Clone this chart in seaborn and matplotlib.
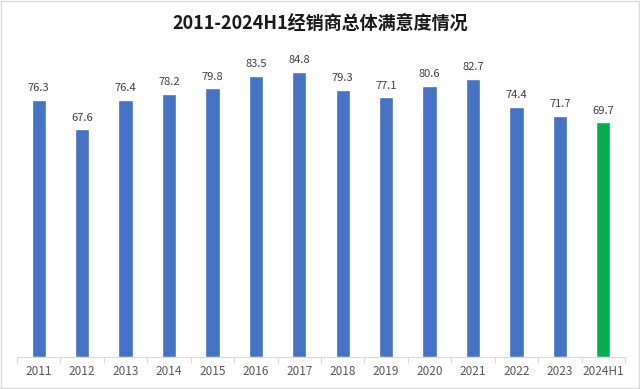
import matplotlib
matplotlib.use("Agg")
import matplotlib.pyplot as plt
import seaborn as sns
import pandas as pd
from matplotlib.patches import Rectangle

# 数据
years = ["2011", "2012", "2013", "2014", "2015", "2016", "2017",
         "2018", "2019", "2020", "2021", "2022", "2023", "2024H1"]
scores = [76.3, 67.6, 76.4, 78.2, 79.8, 83.5, 84.8,
          79.3, 77.1, 80.6, 82.7, 74.4, 71.7, 69.7]
kind = ["full"] * 13 + ["half"]

sns.set_theme(style="white")
plt.rcParams["font.family"] = ["Noto Sans CJK SC", "DejaVu Sans"]

df = pd.DataFrame({"year": years, "score": scores, "kind": kind})

fig = plt.figure(figsize=(6.4, 3.89), dpi=100)
ax = fig.add_axes([17 / 640, 32 / 389, 608 / 640, 303 / 389])

sns.barplot(data=df, x="year", y="score", hue="kind",
            palette={"full": "#4472C4", "half": "#00B050"},
            width=0.33, dodge=False, legend=False, ax=ax, saturation=1)

for i, v in enumerate(scores):
    ax.text(i, v + 2.0, f"{v:.1f}", ha="center", va="bottom",
            fontsize=8, color="#404040")

ax.set_ylim(0, 90)
ax.set_xlim(-0.5, len(years) - 0.5)
ax.set_xlabel("")
ax.set_ylabel("")
ax.set_yticks([])
for s in ["top", "right", "left"]:
    ax.spines[s].set_visible(False)
ax.spines["bottom"].set_color("#d9d9d9")
ax.spines["bottom"].set_linewidth(0.8)

# 类别之间的刻度线
ax.set_xticks([i - 0.5 for i in range(len(years) + 1)], minor=True)
ax.tick_params(axis="x", which="minor", length=4, color="#d9d9d9", width=0.8, bottom=True)
ax.tick_params(axis="x", which="major", length=0, labelsize=8.5, labelcolor="#595959", pad=6)

fig.text(0.5, 0.94, "2011-2024H1经销商总体满意度情况", ha="center", va="center",
         fontsize=13, fontweight="bold", color="#1a1a1a")

fig.patches.append(Rectangle((0.002, 0.003), 0.996, 0.994, transform=fig.transFigure,
                             fill=False, edgecolor="#d9d9d9", linewidth=1))

fig.savefig("out.png", dpi=100)
